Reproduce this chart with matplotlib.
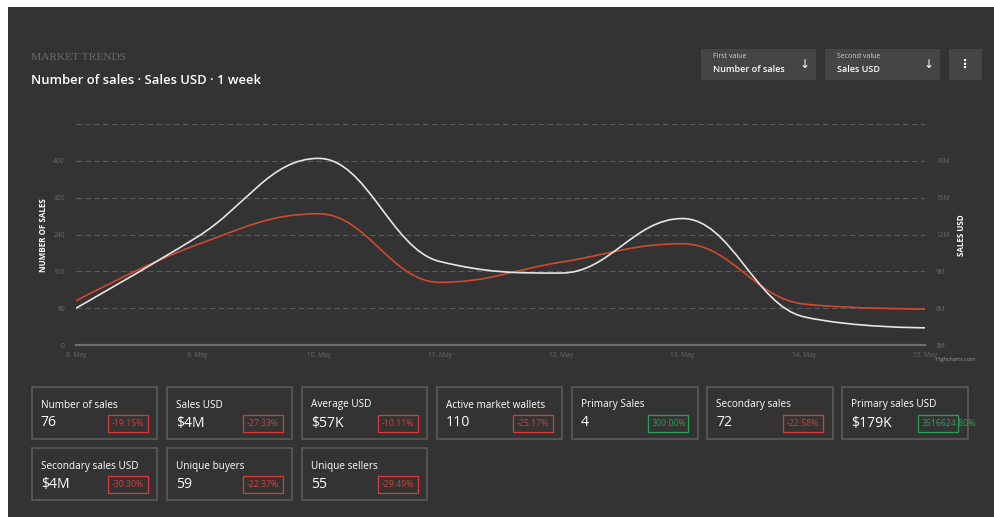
import matplotlib
matplotlib.use("Agg")
import matplotlib.pyplot as plt
from matplotlib.patches import Rectangle
from matplotlib.path import Path
from matplotlib.patches import PathPatch

# donnees
jours = ["8. May", "9. May", "10. May", "11. May", "12. May", "13. May", "14. May", "15. May"]
nombre_ventes = [96, 218, 285, 136, 180, 220, 89, 78]
ventes_usd_m = [6.0, 11.8, 18.2, 9.8, 8.86, 13.3, 5.3, 4.4]

ticks_gauche = [0, 80, 160, 240, 320, 400]
ticks_droite = [3, 6, 9, 12, 15, 18]

titres_cartes = ["Number of sales", "Sales USD", "Average USD", "Active market wallets",
                 "Primary Sales", "Secondary sales", "Primary sales USD",
                 "Secondary sales USD", "Unique buyers", "Unique sellers"]
valeurs_cartes = ["76", "$4M", "$57K", "110", "4", "72", "$179K", "$4M", "59", "55"]
variations_cartes = [-19.15, -27.33, -10.11, -25.17, 300.00, -22.58, 3516624.80,
                     -30.30, -22.37, -29.49]

W, H = 995, 517
FOND = "#333333"
ROUGE = "#cf4a2e"
BLANC = "#e6e6e6"
GRIS_TXT = "#6a6a6a"

plt.rcParams['font.family'] = ['Open Sans', 'DejaVu Sans']


def px(x, y):
    # pixels (origine en haut a gauche) -> fraction de figure
    return x / W, 1 - y / H


def rect_px(fig, x0, y0, x1, y1, **kw):
    fx, fy = px(x0, y1)
    r = Rectangle((fx, fy), (x1 - x0) / W, (y1 - y0) / H, transform=fig.transFigure, **kw)
    fig.patches.append(r)
    return r


def texte_px(fig, x, y, s, size_px, **kw):
    fx, fy = px(x, y)
    fig.text(fx, fy, s, fontsize=size_px * 0.72, transform=fig.transFigure, **kw)


def chemin_spline(xs, ys):
    # meme lissage que les splines highcharts (smoothing 1.5)
    n = len(xs)
    sm, d = 1.5, 2.5
    gauche = [None] * n
    droite = [None] * n
    for i in range(1, n - 1):
        lx, ly = xs[i - 1], ys[i - 1]
        x, y = xs[i], ys[i]
        nx, ny = xs[i + 1], ys[i + 1]
        lcx, lcy = (sm * x + lx) / d, (sm * y + ly) / d
        rcx, rcy = (sm * x + nx) / d, (sm * y + ny) / d
        corr = ((rcy - lcy) * (rcx - x)) / (rcx - lcx) + y - rcy
        lcy += corr
        rcy += corr
        if lcy > ly and lcy > y:
            lcy = max(ly, y); rcy = 2 * y - lcy
        elif lcy < ly and lcy < y:
            lcy = min(ly, y); rcy = 2 * y - lcy
        if rcy > ny and rcy > y:
            rcy = max(ny, y); lcy = 2 * y - rcy
        elif rcy < ny and rcy < y:
            rcy = min(ny, y); lcy = 2 * y - rcy
        gauche[i] = (lcx, lcy)
        droite[i] = (rcx, rcy)
    verts = [(xs[0], ys[0])]
    codes = [Path.MOVETO]
    for i in range(1, n):
        c1 = droite[i - 1] or (xs[i - 1], ys[i - 1])
        c2 = gauche[i] or (xs[i], ys[i])
        verts += [c1, c2, (xs[i], ys[i])]
        codes += [Path.CURVE4] * 3
    return Path(verts, codes)


fig = plt.figure(figsize=(W / 100, H / 100), dpi=100, facecolor="white")
rect_px(fig, 8, 7, W + 2, H + 2, facecolor=FOND, edgecolor="none", zorder=-10)

# en-tete
texte_px(fig, 31, 57, "MARKET TRENDS", 11.5, color="#6a6a6a", family="Liberation Serif", va="center")
texte_px(fig, 31, 80, "Number of sales \u00b7 Sales USD \u00b7 1 week", 13, color="white",
         weight="semibold", va="center")

menus = [(701, 816, "First value", "Number of sales"), (825, 940, "Second value", "Sales USD")]
for x0, x1, petit, grand in menus:
    rect_px(fig, x0, 49, x1, 80, facecolor="#454545", edgecolor="none")
    texte_px(fig, x0 + 12, 56.5, petit, 7, color="#d0d0d0", va="center")
    texte_px(fig, x0 + 12, 69, grand, 9, color="white", weight="semibold", va="center")
    texte_px(fig, x1 - 11, 64.5, "\u2193", 12, color="white", ha="center", va="center",
             family="DejaVu Sans")
rect_px(fig, 949, 49, 982, 80, facecolor="#454545", edgecolor="none")
texte_px(fig, 965.5, 64.5, "\u22ee", 12, color="white", ha="center", va="center",
         family="DejaVu Sans", weight="bold")

# graphique
x0, x1, y0, y1 = 76, 925, 124, 345
ax = fig.add_axes([x0 / W, 1 - y1 / H, (x1 - x0) / W, (y1 - y0) / H])
ax.set_facecolor("none")
ax.set_xlim(0, len(jours) - 1)
ax.set_ylim(0, 480)
for s in ax.spines.values():
    s.set_visible(False)
for v in range(80, 481, 80):
    ax.axhline(v, color="#5c5c5c", lw=0.8, ls=(0, (5, 3)), zorder=1)
ax.axhline(0, color="#6e6e6e", lw=1.6, zorder=2, clip_on=False)
ax.set_yticks(ticks_gauche)
ax.set_yticklabels([str(v) for v in ticks_gauche])
ax.set_xticks(range(len(jours)))
ax.set_xticklabels(jours)
ax.tick_params(length=0, colors=GRIS_TXT, labelsize=4.8)
ax.tick_params(axis="y", pad=8)
ax.tick_params(axis="x", pad=5)
ax.add_patch(PathPatch(chemin_spline(list(range(len(jours))), nombre_ventes),
                       facecolor="none", edgecolor=ROUGE, lw=1.2, zorder=3))

ax2 = ax.twinx()
ax2.set_ylim(3, 21)
for s in ax2.spines.values():
    s.set_visible(False)
ax2.set_yticks(ticks_droite)
ax2.set_yticklabels([f"{v}M" for v in ticks_droite])
ax2.tick_params(length=0, colors=GRIS_TXT, labelsize=4.8, pad=8)
ax2.add_patch(PathPatch(chemin_spline(list(range(len(jours))), ventes_usd_m),
                        facecolor="none", edgecolor=BLANC, lw=1.2, zorder=4))

texte_px(fig, 44, 235, "NUMBER OF SALES", 8, color="white", weight="bold",
         rotation=90, ha="center", va="center")
texte_px(fig, 962, 235, "SALES USD", 8, color="white", weight="bold",
         rotation=90, ha="center", va="center")
texte_px(fig, 956, 360, "Highcharts.com", 5.5, color="#9a9a9a", ha="center", va="center")

# cartes
larg, pas = 125.5, 135.1
for i, (t, v, var) in enumerate(zip(titres_cartes, valeurs_cartes, variations_cartes)):
    ligne, col = divmod(i, 7)
    cx = 31.7 + col * pas
    cy = 387 + ligne * 61.3
    rect_px(fig, cx, cy, cx + larg, cy + 52, facecolor="none", edgecolor="#5a5a5a", lw=1.2)
    texte_px(fig, cx + 9, cy + 18, t, 10, color="white", va="center")
    texte_px(fig, cx + 9, cy + 36, v, 14, color="white", va="center")
    coul = "#2e9e57" if var > 0 else "#d63c3c"
    rect_px(fig, cx + 76, cy + 27.5, cx + 116, cy + 45, facecolor="none", edgecolor=coul, lw=0.9)
    texte_px(fig, cx + 79.5, cy + 36.5, f"{var:.2f}%", 8.8, color=coul, va="center")

fig.savefig("out.png", dpi=100, facecolor=fig.get_facecolor())
